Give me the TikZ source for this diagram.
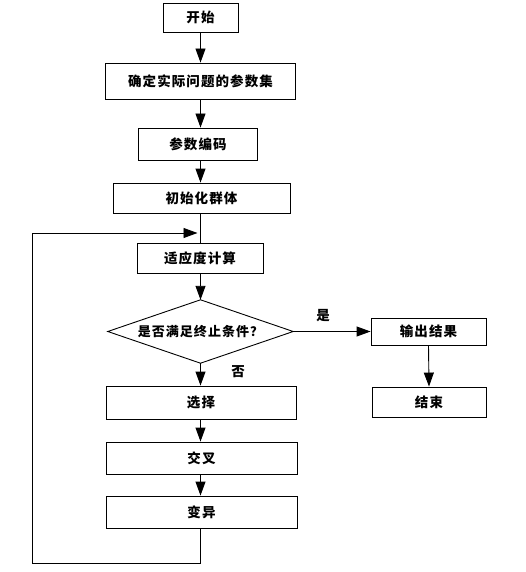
\documentclass[tikz,border=0pt]{standalone}
\usepackage{fontspec}
\newfontfamily\cjk[LetterSpace=8]{Noto Sans CJK SC}
\usetikzlibrary{arrows.meta}
\begin{document}
\begin{tikzpicture}[x=1pt,y=-1pt,
  box/.style={draw,line width=0.9pt,inner sep=0pt,font=\cjk\bfseries\fontsize{13.5}{16}\selectfont},
  lbl/.style={inner sep=0pt,font=\cjk\bfseries\fontsize{13.5}{16}\selectfont},
  arr/.style={line width=0.9pt,-{Triangle[length=14pt,width=10pt]}},
  ln/.style={line width=0.9pt}]
\useasboundingbox (0,0) rectangle (525,572);
\node[box,minimum width=75pt,minimum height=29pt] (start) at (200.5,17.5) {开始};
\node[box,minimum width=190pt,minimum height=36pt] (set) at (200.5,81) {确定实际问题的参数集};
\node[box,minimum width=119pt,minimum height=32pt] (enc) at (198,144) {参数编码};
\node[box,minimum width=177pt,minimum height=30pt] (init) at (201.5,198) {初始化群体};
\node[box,minimum width=126pt,minimum height=30pt] (fit) at (200,258) {适应度计算};
\node[inner sep=0pt,minimum width=185pt,minimum height=63pt,font=\cjk\bfseries\fontsize{13}{16}\selectfont] (cond) at (200.5,331.5) {是否满足终止条件？};
\draw[ln] (cond.west) -- (cond.north) -- (cond.east) -- (cond.south) -- cycle;
\node[box,minimum width=115pt,minimum height=27pt] (out) at (428.5,331.5) {输出结果};
\node[box,minimum width=114pt,minimum height=30pt] (end) at (429,402) {结束};
\node[box,minimum width=190pt,minimum height=33pt] (sel) at (201,402.5) {选择};
\node[box,minimum width=191pt,minimum height=32pt] (cross) at (201.5,458) {交叉};
\node[box,minimum width=191pt,minimum height=32pt] (mut) at (201.5,512) {变异};
\node[lbl] (yes) at (323,316) {是};
\node[lbl] (no) at (238,372) {否};
\coordinate (merge) at (200.5,233);
\coordinate (loopbot) at (200.5,563);
\coordinate (loopleft) at (32,563);
\coordinate (looptop) at (32,233);
\draw[arr] (start.south) -- (start.south |- set.north);
\draw[arr] (set.south) -- (set.south |- enc.north);
\draw[arr] (enc.south -| set.south) -- (init.north -| set.south);
\draw[ln] (init.south -| merge) -- (fit.north -| merge);
\draw[arr] (fit.south -| cond.north) -- (cond.north);
\draw[arr] (cond.east) -- (out.west);
\draw[arr] (out.south) -- (end.north);
\draw[arr] (cond.south) -- (sel.north -| cond.south);
\draw[arr] (sel.south -| cond.south) -- (cross.north -| cond.south);
\draw[arr] (cross.south -| cond.south) -- (mut.north -| cond.south);
\draw[ln] (mut.south -| cond.south) -- (loopbot) -- (loopleft) -- (looptop);
\draw[arr] (looptop) -- ([xshift=-3pt]merge);
\end{tikzpicture}
\end{document}
